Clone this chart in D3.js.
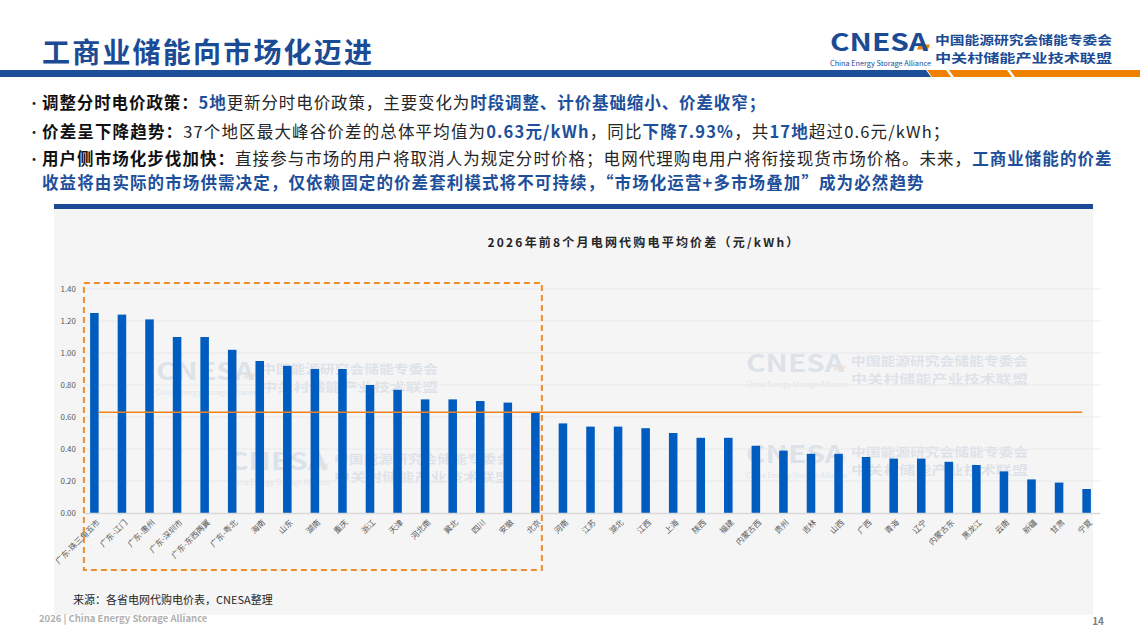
<!DOCTYPE html>
<html>
<head>
<meta charset="utf-8">
<script src="https://cdn.jsdelivr.net/npm/d3@7"></script>
<style>
  html, body { margin: 0; padding: 0; background: #ffffff; }
  svg { display: block; }
  text { font-family: "Noto Sans CJK SC", "Noto Sans", sans-serif; }
</style>
</head>
<body>
<div id="chart"></div>
<script>
// ---------------- data ----------------
const categories = [
  "广东-珠三角五市", "广东-江门", "广东-惠州", "广东-深圳市", "广东-东西两翼", "广东-粤北",
  "海南", "山东", "湖南", "重庆", "浙江", "天津", "河北南", "冀北", "四川", "安徽", "北京",
  "河南", "江苏", "湖北", "江西", "上海", "陕西", "福建", "内蒙古西", "贵州", "吉林", "山西",
  "广西", "青海", "辽宁", "内蒙古东", "黑龙江", "云南", "新疆", "甘肃", "宁夏"
];
const values = [
  1.25, 1.24, 1.21, 1.10, 1.10, 1.02,
  0.95, 0.92, 0.90, 0.90, 0.80, 0.77, 0.71, 0.71, 0.70, 0.69, 0.63,
  0.56, 0.54, 0.54, 0.53, 0.50, 0.47, 0.47, 0.42, 0.39, 0.37, 0.37,
  0.35, 0.34, 0.34, 0.32, 0.30, 0.26, 0.21, 0.19, 0.15
];
const averageValue = 0.63;
const yTicks = [0, 0.2, 0.4, 0.6, 0.8, 1.0, 1.2, 1.4];
const highlightedCount = 17;   // regions above 0.6 元/kWh (boxed)

const pageTitle = "工商业储能向市场化迈进";
const chartTitle = "2026年前8个月电网代购电平均价差（元/kWh）";
const sourceText = "来源：各省电网代购电价表，CNESA整理";
const footerText = "2026 | China Energy Storage Alliance";
const pageNumber = "14";
const logoWords = ["CNESA", "China Energy Storage Alliance", "中国能源研究会储能专委会", "中关村储能产业技术联盟"];
const bullets = [
  [["调整分时电价政策：", "lab"], ["5地", "hi"], ["更新分时电价政策，主要变化为", "n"], ["时段调整、计价基础缩小、价差收窄；", "hi"]],
  [["价差呈下降趋势：", "lab"], ["37个地区最大峰谷价差的总体平均值为", "n"], ["0.63元/kWh", "hi"], ["，同比", "n"], ["下降7.93%", "hi"], ["，共", "n"], ["17地", "hi"], ["超过0.6元/kWh；", "n"]],
  [["用户侧市场化步伐加快：", "lab"], ["直接参与市场的用户将取消人为规定分时价格；电网代理购电用户将衔接现货市场价格。未来，", "n"], ["工商业储能的价差", "hi"]],
  [["收益将由实际的市场供需决定，仅依赖固定的价差套利模式将不可持续，“市场化运营+多市场叠加”成为必然趋势", "hi"]]
];

// ---------------- drawing ----------------
const W = 1140, H = 641;
const BLUE = "#1a4b94";
const ORANGE = "#f0821e";
const svg = d3.select("#chart").append("svg").attr("width", W).attr("height", H);

// header title
svg.append("text").attr("x", 42).attr("y", 51).attr("dominant-baseline", "central")
  .attr("font-size", 28).attr("font-weight", 700).attr("letter-spacing", 2.2)
  .attr("fill", BLUE).text(pageTitle);

// header band
svg.append("rect").attr("x", 0).attr("y", 70).attr("width", 926).attr("height", 7).attr("fill", "#1c4f98");
const segs = [[927, 946], [949, 1007], [1010, 1145]];
segs.forEach(([a, b]) => {
  svg.append("path")
    .attr("d", `M${a},70 L${b},70 L${b + 5},77 L${a + 5},77 Z`)
    .attr("fill", "#f08100");
});
svg.append("path").attr("d", "M921,70 L926,70 L931,77 L926,77 Z").attr("fill", "#1c4f98");

// logo helper
function logo(g, x, y, opacity, color) {
  const lg = g.append("g").attr("transform", `translate(${x},${y})`).attr("opacity", opacity);
  lg.append("path").attr("d", "M89,10.5 L100,10.5 L98,15.5 L87,15.5 Z").attr("fill", "#f08100");
  lg.append("text").attr("x", 0).attr("y", 17)
    .attr("font-family", "'Liberation Sans', Arial, sans-serif").attr("font-size", 23.5).attr("font-weight", 700)
    .attr("fill", color).attr("textLength", 98).attr("lengthAdjust", "spacingAndGlyphs").text(logoWords[0]);
  lg.append("text").attr("x", 0).attr("y", 31.5)
    .attr("font-family", "'Liberation Sans', Arial, sans-serif").attr("font-size", 7)
    .attr("fill", color).attr("textLength", 101).attr("lengthAdjust", "spacingAndGlyphs").text(logoWords[1]);
  lg.append("text").attr("x", 105).attr("y", 10.5).attr("font-size", 12.2).attr("font-weight", 700).attr("fill", color)
    .attr("textLength", 177).attr("lengthAdjust", "spacingAndGlyphs").text(logoWords[2]);
  lg.append("text").attr("x", 105).attr("y", 28.5).attr("font-size", 12.2).attr("font-weight", 700).attr("fill", color)
    .attr("textLength", 177).attr("lengthAdjust", "spacingAndGlyphs").text(logoWords[3]);
  return lg;
}
logo(svg, 830, 34, 1, BLUE);

// bullets
const bulletY = [101.5, 130.5, 157.5, 181.5];
const spacing = [0.9, 1.15, 1.05, 1.1];
const colors = { lab: "#111111", hi: "#1d4f9a", n: "#262626" };
bullets.forEach((line, i) => {
  if (i < 3) {
    svg.append("text").attr("x", 27).attr("y", bulletY[i]).attr("dominant-baseline", "central")
      .attr("font-size", 14).attr("fill", "#262626").text("•");
  }
  const t = svg.append("text").attr("x", 42).attr("y", bulletY[i]).attr("dominant-baseline", "central")
    .attr("font-size", 16.5).attr("letter-spacing", spacing[i]);
  line.forEach(([txt, s]) => {
    t.append("tspan").attr("fill", colors[s]).attr("font-weight", s === "n" ? 400 : 700).text(txt);
  });
});

// chart panel
svg.append("rect").attr("x", 54).attr("y", 207).attr("width", 1039).attr("height", 408).attr("fill", "#f5f5f5");
svg.append("rect").attr("x", 54).attr("y", 204).attr("width", 1039).attr("height", 5).attr("fill", BLUE);

// watermarks
[[156, 363], [229, 453], [746, 355], [746, 446]].forEach(([x, y]) => logo(svg, x, y, 0.12, "#3a5f9a"));

// chart title
svg.append("text").attr("x", 644).attr("y", 241).attr("text-anchor", "middle").attr("dominant-baseline", "central")
  .attr("font-size", 12).attr("font-weight", 700).attr("letter-spacing", 2.2).attr("fill", "#262626").text(chartTitle);

// scales
const plotL = 80.6, plotR = 1100.4;
const x = d3.scaleBand().domain(categories).range([plotL, plotR]).paddingInner(0.69).paddingOuter(0.345);
const y = d3.scaleLinear().domain([0, 1.4]).range([513, 289]);
const bw = x.bandwidth();

// grid
svg.append("g").selectAll("line").data(yTicks.slice(1)).join("line")
  .attr("x1", 83).attr("x2", plotR).attr("y1", d => y(d)).attr("y2", d => y(d))
  .attr("stroke", "#e9e9e9").attr("stroke-width", 1);

// y axis labels via d3 axis
const yAxis = d3.axisLeft(y).tickValues(yTicks).tickFormat(d3.format(".2f")).tickSize(0).tickPadding(0);
const ya = svg.append("g").attr("transform", "translate(76,0)").call(yAxis);
ya.select(".domain").remove();
ya.selectAll("text").attr("font-size", 8).attr("fill", "#595959").attr("font-family", "'Noto Sans CJK SC', sans-serif");

// bars
svg.append("g").selectAll("rect").data(categories).join("rect")
  .attr("x", d => x(d)).attr("width", bw)
  .attr("y", (d, i) => y(values[i])).attr("height", (d, i) => y(0) - y(values[i]))
  .attr("fill", "#005cbf");

// baseline
svg.append("line").attr("x1", 83).attr("x2", plotR).attr("y1", y(0) + 0.5).attr("y2", y(0) + 0.5)
  .attr("stroke", "#d9d9d9").attr("stroke-width", 1.5);

// x labels
const xAxis = d3.axisBottom(x).tickSize(0).tickPadding(0);
const xa = svg.append("g").attr("transform", `translate(0,${y(0)})`).call(xAxis);
xa.select(".domain").remove();
xa.selectAll("text")
  .attr("font-size", 8).attr("fill", "#595959").attr("font-family", "'Noto Sans CJK SC', sans-serif")
  .attr("text-anchor", "end").attr("y", 0).attr("dy", "0.35em")
  .attr("transform", "translate(4,8) rotate(-45)");

// average line
svg.append("line")
  .attr("x1", x(categories[0]) + bw).attr("x2", x(categories[categories.length - 1]))
  .attr("y1", y(averageValue)).attr("y2", y(averageValue))
  .attr("stroke", ORANGE).attr("stroke-width", 1.5);

// dashed highlight box around regions above 0.6
const bx0 = x(categories[0]) + bw / 2 - 10.5;
const bx1 = x(categories[highlightedCount - 1]) + bw / 2 + 6.5;
svg.append("rect").attr("x", bx0).attr("y", y(1.4) - 6).attr("width", bx1 - bx0).attr("height", 570 - (y(1.4) - 6))
  .attr("fill", "none").attr("stroke", "#f28c28").attr("stroke-width", 2).attr("stroke-dasharray", "6,4");

// source
svg.append("text").attr("x", 73).attr("y", 599).attr("dominant-baseline", "central")
  .attr("font-size", 11).attr("fill", "#262626").text(sourceText);

// footer
svg.append("text").attr("x", 39).attr("y", 618).attr("dominant-baseline", "central")
  .attr("font-family", "'Open Sans', sans-serif").attr("font-size", 9.5).attr("font-weight", 600)
  .attr("fill", "#b0b0b0").text(footerText);
svg.append("text").attr("x", 1104).attr("y", 620).attr("text-anchor", "end").attr("dominant-baseline", "central")
  .attr("font-family", "'Open Sans', sans-serif").attr("font-size", 10).attr("font-weight", 700)
  .attr("fill", "#7f7f7f").text(pageNumber);
</script>
</body>
</html>
